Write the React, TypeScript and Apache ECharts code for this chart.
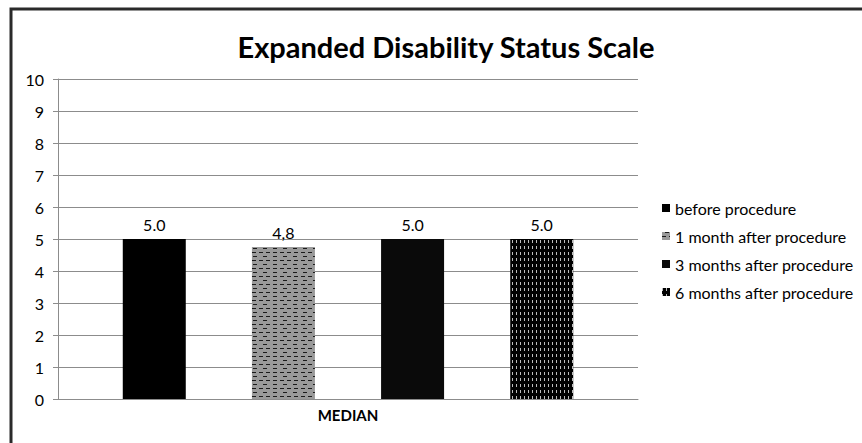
import React, { useEffect, useRef } from "react";
import * as echarts from "echarts";

const categories = ["MEDIAN"];
const seriesNames = [
  "before procedure",
  "1 month after procedure",
  "3 months after procedure",
  "6 months after procedure",
];
const seriesValues = [5.0, 4.75, 5.0, 5.0];
const valueLabels = ["5.0", "4,8", "5.0", "5.0"];
const yTicks = [0, 1, 2, 3, 4, 5, 6, 7, 8, 9, 10];

const FONT = "Lato, 'Noto Sans', sans-serif";

const styles = [
  { color: "#000000" },
  {
    color: "#9a9a9a",
    decal: {
      symbol: "rect",
      symbolSize: 1,
      color: "#1a1a1a",
      backgroundColor: "#9a9a9a",
      dashArrayX: [[4, 2.5], [0, 3, 4, 2.5]],
      dashArrayY: [1, 2.4],
      rotation: 0,
    },
  },
  { color: "#0a0a0a" },
  {
    color: "#000000",
    decal: {
      symbol: "rect",
      symbolSize: 1,
      color: "#bdbdbd",
      backgroundColor: "#000000",
      dashArrayX: [1, 3],
      dashArrayY: [3, 2.5],
      rotation: 0,
    },
  },
];

export default function App() {
  const ref = useRef<HTMLDivElement>(null);
  useEffect(() => {
    if (!ref.current) return;
    const chart = echarts.init(ref.current, null, { renderer: "svg" });
    chart.setOption({
      animation: false,
      backgroundColor: "#ffffff",
      title: {
        text: "Expanded Disability Status Scale",
        left: 441,
        top: 27,
        textAlign: "center",
        textStyle: { fontFamily: FONT, fontSize: 29, fontWeight: "bold", color: "#000" },
      },
      graphic: [
        {
          type: "rect",
          shape: { x: 11, y: 9, width: 900, height: 500 },
          style: { fill: "none", stroke: "#2a2a2a", lineWidth: 3 },
          silent: true,
        },
      ],
      legend: {
        orient: "vertical",
        left: 657,
        top: 194,
        itemWidth: 8,
        itemHeight: 8,
        itemGap: 10,
        icon: "rect",
        data: seriesNames,
        textStyle: { fontFamily: FONT, fontSize: 16, color: "#000", lineHeight: 18 },
      },
      grid: { left: 58, right: 224, top: 79, bottom: 44, containLabel: false },
      xAxis: {
        type: "category",
        data: categories,
        axisLine: { lineStyle: { color: "#8c8c8c", width: 1 } },
        axisTick: { show: false },
        axisLabel: {
          margin: 8,
          fontFamily: FONT,
          fontSize: 15,
          fontWeight: "bold",
          color: "#000",
        },
      },
      yAxis: {
        type: "value",
        min: yTicks[0],
        max: yTicks[yTicks.length - 1],
        interval: 1,
        axisLine: { show: true, lineStyle: { color: "#8c8c8c", width: 1 } },
        axisTick: { show: true, inside: false, length: 5, lineStyle: { color: "#8c8c8c" } },
        splitLine: { show: true, lineStyle: { color: "#8c8c8c", width: 1 } },
        axisLabel: { margin: 14, fontFamily: FONT, fontSize: 16, color: "#000" },
      },
      series: seriesNames.map((name, i) => ({
        name,
        type: "bar",
        data: [seriesValues[i]],
        barWidth: 63,
        barGap: "105%",
        itemStyle: styles[i],
        label: {
          show: true,
          position: "top",
          distance: 7,
          formatter: () => valueLabels[i],
          fontFamily: FONT,
          fontSize: 16,
          color: "#000",
        },
      })),
    });
    return () => chart.dispose();
  }, []);
  return (
    <div
      ref={ref}
      style={{ position: "fixed", left: 0, top: 0, width: 862, height: 443 }}
    />
  );
}
